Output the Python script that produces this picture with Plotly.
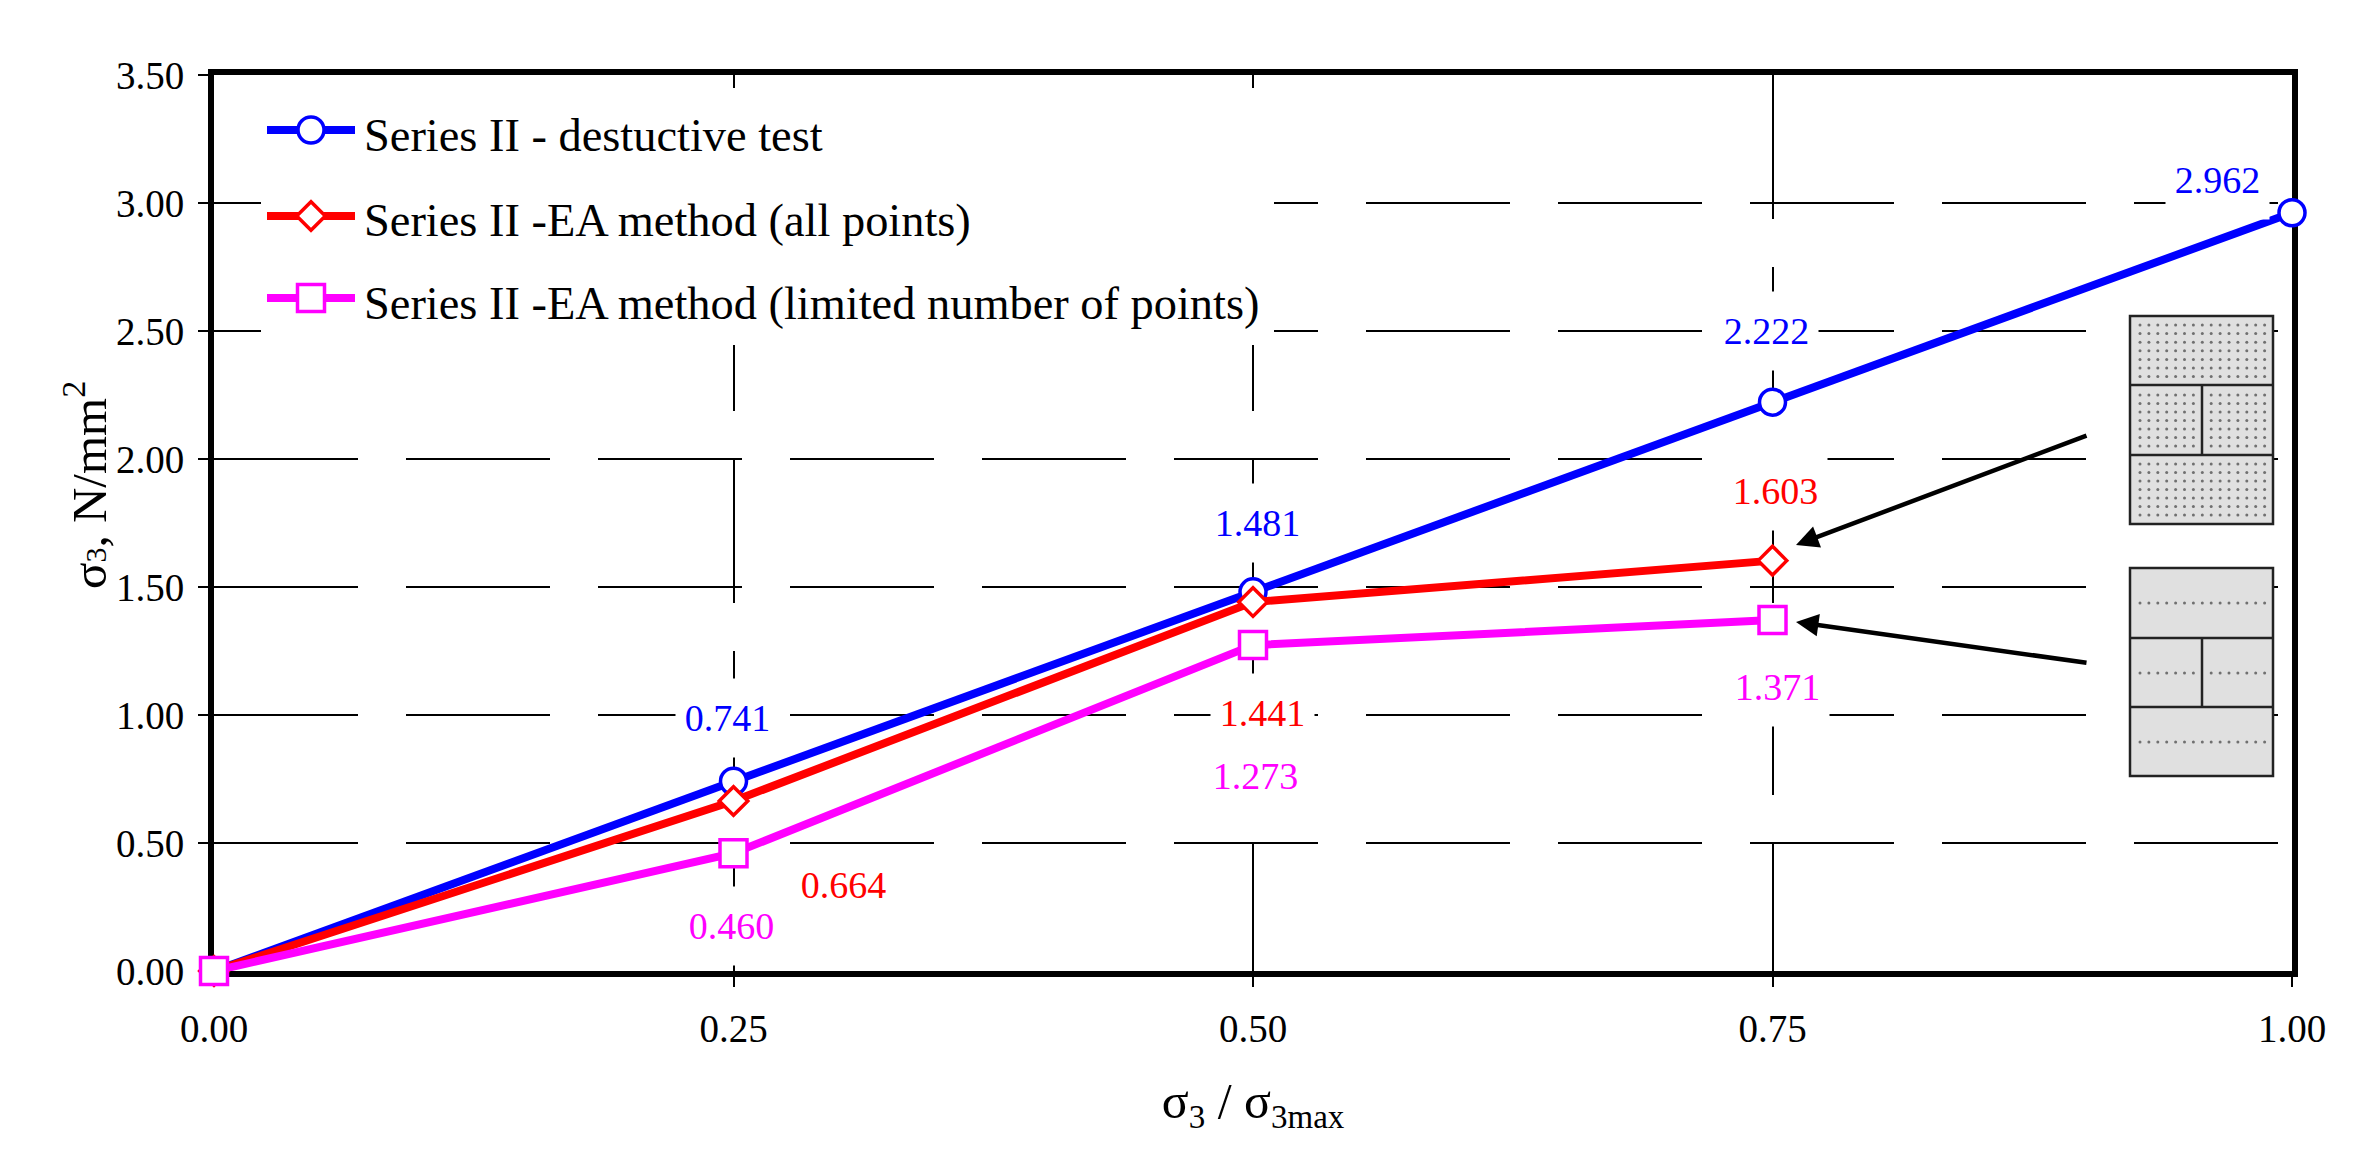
import plotly.graph_objects as go

FONT = "Liberation Serif"
W, H = 2370, 1174

# chart data
ratio = [0.0, 0.25, 0.50, 0.75, 1.00]
destructive = [0.0, 0.741, 1.481, 2.222, 2.962]
ea_all = [0.0, 0.664, 1.441, 1.603]
ea_limited = [0.0, 0.460, 1.273, 1.371]
names = ["Series II - destuctive test",
         "Series II -EA method (all points)",
         "Series II -EA method (limited number of points)"]
x_ticks = [0.0, 0.25, 0.50, 0.75, 1.00]
y_ticks = [0.0, 0.5, 1.0, 1.5, 2.0, 2.5, 3.0, 3.5]

BLUE, RED, MAGENTA = "#0000ff", "#ff0000", "#ff00ff"
LINE_W = 8

# plot area in pixels
left, right, top, bottom = 214, 2292, 75, 971

fig = go.Figure()


def series(x, y, name, color, symbol, size):
    fig.add_trace(go.Scatter(
        x=x, y=y, name=name, mode="lines+markers", cliponaxis=False,
        line=dict(color=color, width=LINE_W),
        marker=dict(symbol=symbol, size=size, color="white",
                    line=dict(color=color, width=3.5)),
        showlegend=False))


series(ratio, destructive, names[0], BLUE, "circle", 26)
series(ratio[:4], ea_all, names[1], RED, "diamond", 22)
series(ratio[:4], ea_limited, names[2], MAGENTA, "square", 27)

# second full-page pair of axes, in pixels, for the legend and the wall sketches
fig.update_layout(
    xaxis2=dict(domain=[0, 1], range=[0, W], visible=False, anchor="y2", automargin=False),
    yaxis2=dict(domain=[0, 1], range=[H, 0], visible=False, anchor="x2", automargin=False),
)

# legend by hand: plotly caps legend markers at 16px
fig.add_shape(type="rect", xref="x2", yref="y2", x0=261, x1=1274, y0=88, y1=345,
              fillcolor="white", line_width=0, layer="between")
key_rows = [(130, BLUE, "circle", 26, 135),
            (216, RED, "diamond", 22, 220),
            (298, MAGENTA, "square", 27, 303)]
for (row, color, symbol, size, text_y), name in zip(key_rows, names):
    fig.add_trace(go.Scatter(x=[267, 355], y=[row, row], xaxis="x2", yaxis="y2",
                             mode="lines", line=dict(color=color, width=LINE_W),
                             showlegend=False, hoverinfo="skip"))
    fig.add_trace(go.Scatter(x=[311], y=[row], xaxis="x2", yaxis="y2", mode="markers",
                             marker=dict(symbol=symbol, size=size, color="white",
                                         line=dict(color=color, width=3.5)),
                             showlegend=False, hoverinfo="skip"))
    fig.add_annotation(x=362, y=text_y, xref="x2", yref="y2", text=name, showarrow=False,
                       xanchor="left", yanchor="middle", font=dict(size=46.4, color="black"))

# wall sketches
dot_x, dot_y = [], []
for y0, y1, y2, y3, dot_rows in [
    (316, 385, 455, 524, [[325 + 8.6 * i for i in range(7)],
                          [395 + 8.5 * i for i in range(7)],
                          [464 + 8.5 * i for i in range(7)]]),
    (568, 638, 707, 776, [[603], [673], [742]]),
]:
    fig.add_shape(type="rect", xref="x2", yref="y2", x0=2130, x1=2273, y0=y0, y1=y3,
                  fillcolor="#e0e0e0", line=dict(color="#222222", width=2.5), layer="between")
    for ya in (y1, y2):
        fig.add_shape(type="line", xref="x2", yref="y2", x0=2130, x1=2273, y0=ya, y1=ya,
                      line=dict(color="#222222", width=2.5), layer="between")
    fig.add_shape(type="line", xref="x2", yref="y2", x0=2202, x1=2202, y0=y1, y1=y2,
                  line=dict(color="#222222", width=2.5), layer="between")
    cols = [2140 + 8.9 * i for i in range(15)]
    for i, rows in enumerate(dot_rows):
        use = cols if i != 1 else cols[:7] + cols[8:]
        for ry in rows:
            dot_x += use
            dot_y += [ry] * len(use)
fig.add_trace(go.Scatter(x=dot_x, y=dot_y, xaxis="x2", yaxis="y2", mode="markers",
                         marker=dict(size=3, color="#707070"),
                         showlegend=False, hoverinfo="skip"))

# value labels with their white boxes
label_sets = [
    (destructive, BLUE, [None, (727, 718), (1257, 523), (1766, 331), (2217, 180)]),
    (ea_all, RED, [None, (843, 885), (1262, 713), (1775, 491)]),
    (ea_limited, MAGENTA, [None, (731, 926), (1255, 776), (1777, 687)]),
]
for vals, color, spots in label_sets:
    for v, spot in zip(vals, spots):
        if spot is None:
            continue
        fig.add_annotation(x=spot[0], y=spot[1], xref="x2", yref="y2",
                           text=f"{v:.3f}", showarrow=False, bgcolor="white",
                           width=101, height=76, align="center", valign="middle",
                           font=dict(size=38, color=color))

# arrows from the sketches
for tail, head in [((2088, 435), (1796, 545)), ((2088, 663), (1796, 622))]:
    fig.add_annotation(x=head[0], y=head[1], ax=tail[0], ay=tail[1],
                       xref="x2", yref="y2", axref="x2", ayref="y2", text="",
                       showarrow=True, arrowhead=2, arrowsize=1, arrowwidth=4.5,
                       arrowcolor="black")

# y title sits above the axis centre, so it is placed by hand
fig.add_annotation(x=85, y=485, xref="x2", yref="y2", textangle=-90, showarrow=False,
                   text='σ<span style="font-size:30px">3</span>, N/mm<sup>2</sup>',
                   font=dict(size=49, color="black"))

axis_style = dict(showline=True, mirror=True, linecolor="black", linewidth=6,
                  ticks="outside", ticklen=10, tickwidth=2, tickcolor="black",
                  showgrid=True, gridcolor="black", gridwidth=2, griddash="144px,48px",
                  zeroline=False, layer="below traces", tickformat=".2f",
                  automargin=False, tickfont=dict(size=39, color="black"))

fig.update_layout(
    width=W, height=H,
    margin=dict(l=0, r=0, t=0, b=0),
    paper_bgcolor="white",
    plot_bgcolor="rgba(0,0,0,0)",
    font=dict(family=FONT, color="black"),
    showlegend=False,
    xaxis=dict(domain=[left / W, right / W], range=[0, 1], tickvals=x_ticks,
               ticklabelstandoff=8,
               title=dict(text='σ<sub><span style="font-size:33px">3</span></sub> / '
                               'σ<sub><span style="font-size:33px">3max</span></sub>',
                          font=dict(size=50), standoff=36),
               **axis_style),
    yaxis=dict(domain=[1 - bottom / H, 1 - top / H], range=[0, 3.5], tickvals=y_ticks,
               ticklabelstandoff=6, **axis_style),
)

# drop the page's default 8px body margin so pixel positions hold
fig.write_html("out.html", config=dict(displayModeBar=False),
               post_script="document.body.style.margin='0';")
